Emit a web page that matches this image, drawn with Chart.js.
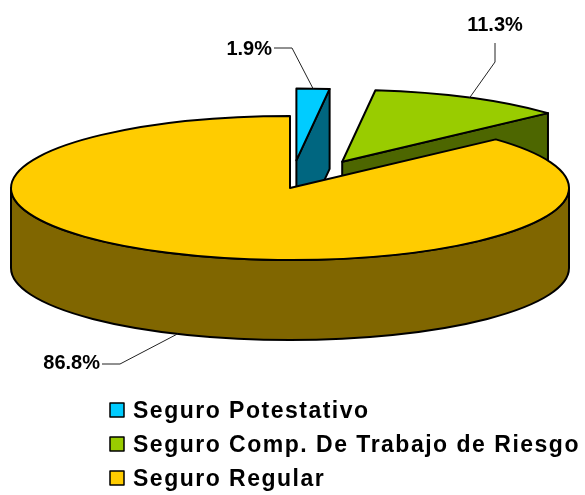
<!DOCTYPE html>
<html>
<head>
<meta charset="utf-8">
<script src="https://cdn.jsdelivr.net/npm/chart.js@4.4.1/dist/chart.umd.min.js"></script>
<style>
  html, body { margin: 0; padding: 0; background: #fff; }
  canvas { display: block; }
</style>
</head>
<body>
<canvas id="pieChart" width="585" height="495"></canvas>
<script>
  const labels = ['Seguro Potestativo', 'Seguro Comp. De Trabajo de Riesgo', 'Seguro Regular'];
  const shares = [1.9, 11.3, 86.8];
  const pctLabels = ['1.9%', '11.3%', '86.8%'];

  const colors = ['#00CCFF', '#99CC00', '#FFCC00'];
  const sideColors = ['#006680', '#4D6600', '#806600'];
  const explode = [208, 222, 0];

  // the flat chart.js pie gets mapped onto a tilted ellipse with some depth
  const tilt = { cx: 290, cy: 188, rx: 279, ry: 72, depth: 80 };

  // % callouts: text position and the elbow of the leader line
  const callouts = [
    { tx: 272, ty: 49, align: 'right', elbow: [[274, 48], [292, 48]] },
    { tx: 495, ty: 25, align: 'center', elbow: [[495, 43], [495, 62]] },
    { tx: 100, ty: 363, align: 'right', elbow: [[102, 364], [120, 364]] }
  ];

  function radialFace(ctx, sl, a) {
    const ex = sl.x + tilt.rx * Math.cos(a), ey = sl.y + tilt.ry * Math.sin(a);
    ctx.beginPath();
    ctx.moveTo(sl.x, sl.y);
    ctx.lineTo(ex, ey);
    ctx.lineTo(ex, ey + tilt.depth);
    ctx.lineTo(sl.x, sl.y + tilt.depth);
    ctx.closePath();
    ctx.fill();
    ctx.stroke();
  }

  function rimFace(ctx, sl, a1, a2) {
    const {rx, ry, depth} = tilt;
    ctx.beginPath();
    ctx.ellipse(sl.x, sl.y, rx, ry, 0, a1, a2);
    ctx.lineTo(sl.x + rx * Math.cos(a2), sl.y + ry * Math.sin(a2) + depth);
    ctx.ellipse(sl.x, sl.y + depth, rx, ry, 0, a2, a1, true);
    ctx.closePath();
    ctx.fill();
    ctx.stroke();
  }

  const pie3d = {
    id: 'pie3d',
    beforeDatasetsDraw() {
      return false; // drawn by hand below
    },
    afterDraw(chart) {
      const ctx = chart.ctx;
      const arcs = chart.getDatasetMeta(0).data;
      const slices = arcs.map((arc, i) => {
        const p = arc.getProps(['x', 'y', 'startAngle', 'endAngle', 'outerRadius'], true);
        const mid = (p.startAngle + p.endAngle) / 2;
        const off = (arc.options.offset || 0) / 4 / p.outerRadius;
        return {
          i: i, s: p.startAngle, e: p.endAngle, mid: mid,
          x: tilt.cx + Math.cos(mid) * off * tilt.rx,
          y: tilt.cy + Math.sin(mid) * off * tilt.ry,
          fill: arc.options.backgroundColor,
          border: arc.options.borderColor,
          bw: arc.options.borderWidth
        };
      });

      ctx.save();
      ctx.lineJoin = 'round';
      slices.slice().sort((a, b) => a.y - b.y).forEach(sl => {
        ctx.strokeStyle = sl.border;
        ctx.lineWidth = sl.bw;
        ctx.fillStyle = sideColors[sl.i];
        if (Math.cos(sl.s) < -1e-6) radialFace(ctx, sl, sl.s);
        if (Math.cos(sl.e) > 1e-6) radialFace(ctx, sl, sl.e);
        const a1 = Math.max(sl.s, 0), a2 = Math.min(sl.e, Math.PI);
        if (a2 > a1) rimFace(ctx, sl, a1, a2);
        ctx.fillStyle = sl.fill;
        ctx.beginPath();
        ctx.moveTo(sl.x, sl.y);
        ctx.ellipse(sl.x, sl.y, tilt.rx, tilt.ry, 0, sl.s, sl.e);
        ctx.closePath();
        ctx.fill();
        ctx.stroke();
      });

      // leader lines and percentages
      ctx.font = 'bold 20px "Liberation Sans", Arial, sans-serif';
      ctx.textBaseline = 'middle';
      ctx.fillStyle = '#000';
      slices.forEach(sl => {
        const c = callouts[sl.i];
        const front = Math.sin(sl.mid) > 0;
        const ax = sl.x + tilt.rx * Math.cos(sl.mid);
        const ay = sl.y + tilt.ry * Math.sin(sl.mid) + (front ? tilt.depth : 0);
        ctx.strokeStyle = '#222';
        ctx.lineWidth = 1;
        ctx.beginPath();
        ctx.moveTo(c.elbow[0][0], c.elbow[0][1]);
        ctx.lineTo(c.elbow[1][0], c.elbow[1][1]);
        ctx.lineTo(ax, ay);
        ctx.stroke();
        ctx.textAlign = c.align;
        ctx.fillText(pctLabels[sl.i], c.tx, c.ty);
      });

      // legend
      ctx.font = 'bold 23px "Liberation Sans", Arial, sans-serif';
      ctx.letterSpacing = '1.5px';
      ctx.textAlign = 'left';
      ctx.textBaseline = 'alphabetic';
      chart.data.labels.forEach((lab, i) => {
        const base = 418 + i * 34;
        ctx.fillStyle = colors[i];
        ctx.fillRect(110, base - 15, 14, 14);
        ctx.strokeStyle = '#000';
        ctx.lineWidth = 1.5;
        ctx.strokeRect(110, base - 15, 14, 14);
        ctx.fillStyle = '#000';
        ctx.fillText(lab, 133, base);
      });
      ctx.restore();
    }
  };

  new Chart(document.getElementById('pieChart'), {
    type: 'pie',
    data: {
      labels: labels,
      datasets: [{
        data: shares,
        backgroundColor: colors,
        borderColor: '#000',
        borderWidth: 2,
        offset: explode
      }]
    },
    options: {
      responsive: false,
      animation: false,
      events: [],
      plugins: {
        legend: { display: false },
        tooltip: { enabled: false }
      }
    },
    plugins: [pie3d]
  });
</script>
</body>
</html>
